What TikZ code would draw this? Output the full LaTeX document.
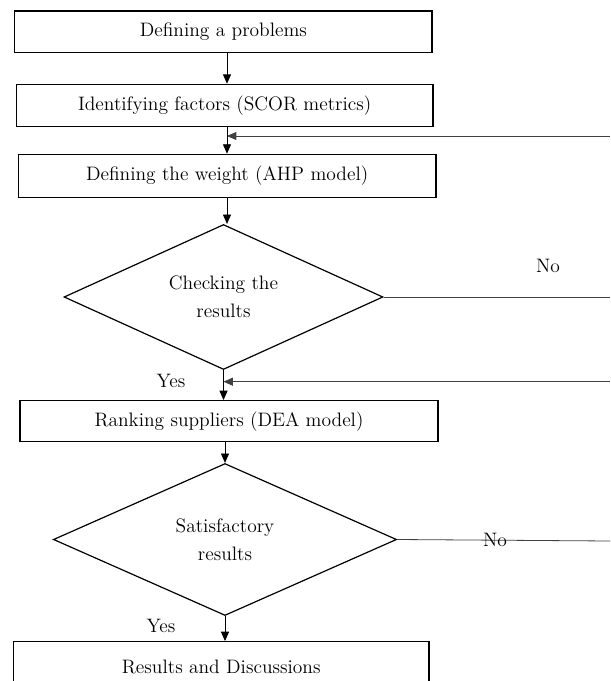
\documentclass[tikz,border=0pt]{standalone}
\usetikzlibrary{shapes.geometric,arrows.meta}
\begin{document}
\begin{tikzpicture}[x=0.75pt,y=-0.75pt,
  every node/.style={font=\fontsize{14.6}{20.3}\selectfont},
  stepbox/.style={draw,line width=0.9pt,inner sep=0pt,rectangle},
  decision/.style={draw,line width=0.9pt,diamond,inner sep=0pt,align=center,font=\fontsize{14.6}{20.8}\selectfont},
  arr/.style={line width=0.6pt,-{Triangle[length=7pt,width=6pt]}},
  back/.style={line width=0.6pt,black!75},
  lab/.style={inner sep=0pt}]
\useasboundingbox (0,0) rectangle (610,681);
\clip (0,0) rectangle (610,681);
\node[stepbox,minimum width=312.9pt,minimum height=31.3pt] (b1) at (223.4,31.85) {Defining a problems};
\node[stepbox,minimum width=312.5pt,minimum height=31.8pt] (b2) at (224.65,105.5) {Identifying factors (SCOR metrics)};
\node[stepbox,minimum width=313.3pt,minimum height=32.6pt] (b3) at (227.15,176) {Defining the weight (AHP model)};
\node[decision,aspect=2.2,minimum width=239.25pt,minimum height=108.75pt] (d1) at (223.5,297) {Checking the\\results};
\node[stepbox,minimum width=313.5pt,minimum height=30.8pt] (b4) at (229,421.2) {Ranking suppliers (DEA model)};
\node[decision,aspect=2.26,minimum width=257.4pt,minimum height=114pt] (d2) at (225,539.5) {Satisfactory\\results};
\node[stepbox,minimum width=311.6pt,minimum height=38pt] (b5) at (221.25,667) {Results and Discussions};
\coordinate (ax) at (227,0);
\coordinate (r1) at (610,136);
\coordinate (r2) at (610,297);
\coordinate (r3) at (610,381.7);
\coordinate (r4) at (610,541);
\draw[arr] (b1.south -| ax) -- (b2.north -| ax);
\draw[arr] (b2.south -| ax) -- (b3.north -| ax);
\draw[arr] (b3.south -| ax) -- (d1.north -| ax);
\draw[arr] (d1.south) -- (b4.north -| d1.south);
\draw[arr] (b4.south -| d2.north) -- (d2.north);
\draw[arr] (d2.south) -- (b5.north -| d2.south);
\draw[back,-{Triangle[length=7pt,width=6pt]}] (r1) -- (r1 -| ax);
\draw[back,-{Triangle[length=7pt,width=6pt]}] (r3) -- (r3 -| d1.south);
\draw[back] (d1.east) -- (r2);
\draw[back] (d2.east) -- (r4);
\node[lab] (no1) at (548,266) {No};
\node[lab] (no2) at (495,540) {No};
\node[lab] (yes1) at (171,381) {Yes};
\node[lab] (yes2) at (161,626) {Yes};
\end{tikzpicture}
\end{document}
